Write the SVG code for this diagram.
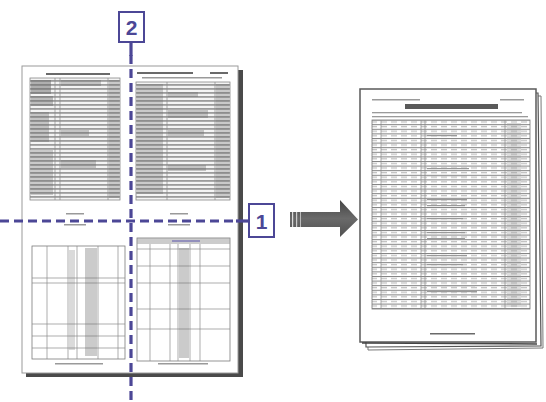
<svg xmlns="http://www.w3.org/2000/svg" width="546" height="402" viewBox="0 0 546 402">
<style>
.page{fill:#fff;stroke:#9a9a9a;stroke-width:1}
.shadow{fill:#4a4a4a}
.tbl{fill:none;stroke:#7a7a7a;stroke-width:0.8}
.ln{stroke:#8a8a8a;stroke-width:0.7}
.txt{fill:#9a9a9a}
.dtxt{fill:#6a6a6a}
.cut{stroke:#4c4796;stroke-width:3.2;stroke-dasharray:9 5;fill:none}
.tag rect{fill:#fff;stroke:#4c4796;stroke-width:2}
.tag text{font-family:"Liberation Sans",Arial,sans-serif;font-weight:bold;font-size:21px;fill:#4c4796;text-anchor:middle}
</style>
<defs>
<pattern id="rowsDense" width="10" height="4" patternUnits="userSpaceOnUse">
<rect width="10" height="4" fill="#f4f4f4"/>
<rect y="0" width="10" height="1.8" fill="#9c9c9c"/>
</pattern>
<pattern id="rowsR" width="10" height="4.6" patternUnits="userSpaceOnUse">
<rect width="10" height="4.6" fill="#fff"/>
<rect y="0" width="10" height="1" fill="#808080"/>
<rect x="1" y="1.8" width="6" height="1.3" fill="#c4c4c4"/>
</pattern>
<linearGradient id="arrowG" x1="0" y1="0" x2="0" y2="1">
<stop offset="0" stop-color="#444"/>
<stop offset="0.5" stop-color="#6a6a6a"/>
<stop offset="1" stop-color="#505050"/>
</linearGradient>
</defs>

<!-- Left page -->
<g id="source-page">
<rect class="shadow" x="26" y="70" width="217" height="307"/>
<rect class="page" x="22" y="66" width="216" height="307"/>
<!-- top-left quadrant -->
<rect class="dtxt" x="46" y="73" width="64" height="2"/>
<rect x="30" y="78" width="90" height="122" fill="url(#rowsDense)" stroke="#888" stroke-width="0.8"/>
<line class="ln" x1="55" y1="78" x2="55" y2="200"/>
<line class="ln" x1="60" y1="78" x2="60" y2="200"/>
<line class="ln" x1="108" y1="78" x2="108" y2="200"/>
<rect class="dtxt" x="31" y="80" width="20" height="14" opacity="0.5"/>
<rect class="dtxt" x="31" y="96" width="22" height="10" opacity="0.4"/>
<rect class="dtxt" x="31" y="112" width="18" height="30" opacity="0.35"/>
<rect class="dtxt" x="31" y="150" width="22" height="45" opacity="0.3"/>
<rect class="dtxt" x="61" y="80" width="40" height="6" opacity="0.35"/>
<rect class="dtxt" x="61" y="130" width="28" height="6" opacity="0.35"/>
<rect class="dtxt" x="61" y="160" width="35" height="8" opacity="0.35"/>
<rect class="dtxt" x="109" y="80" width="10" height="118" opacity="0.3"/>
<!-- top-right quadrant -->
<rect class="dtxt" x="137" y="72" width="56" height="2"/>
<rect class="dtxt" x="210" y="72" width="18" height="2"/>
<rect class="txt" x="142" y="77" width="80" height="1.5"/>
<rect x="136" y="82" width="94" height="118" fill="url(#rowsDense)" stroke="#888" stroke-width="0.8"/>
<line class="ln" x1="167" y1="82" x2="167" y2="200"/>
<line class="ln" x1="215" y1="82" x2="215" y2="200"/>
<rect class="dtxt" x="137" y="84" width="26" height="110" opacity="0.3"/>
<rect class="dtxt" x="168" y="92" width="30" height="5" opacity="0.35"/>
<rect class="dtxt" x="168" y="110" width="40" height="8" opacity="0.35"/>
<rect class="dtxt" x="168" y="130" width="36" height="6" opacity="0.35"/>
<rect class="dtxt" x="168" y="165" width="38" height="6" opacity="0.35"/>
<rect class="dtxt" x="216" y="84" width="13" height="114" opacity="0.3"/>
<!-- captions -->
<rect class="txt" x="66" y="213" width="18" height="1.5"/>
<rect class="txt" x="64" y="224" width="22" height="1.5"/>
<rect class="txt" x="170" y="213" width="18" height="1.5"/>
<rect class="txt" x="168" y="224" width="22" height="1.5"/>
<!-- bottom-left table -->
<rect class="tbl" x="32" y="246" width="93" height="113"/>
<line class="ln" x1="47" y1="246" x2="47" y2="359"/>
<line class="ln" x1="68" y1="246" x2="68" y2="359"/>
<line class="ln" x1="77" y1="246" x2="77" y2="359"/>
<line class="ln" x1="98" y1="246" x2="98" y2="359"/>
<line class="ln" x1="118" y1="246" x2="118" y2="359"/>
<line class="ln" x1="32" y1="278" x2="125" y2="278"/>
<line class="ln" x1="32" y1="283" x2="125" y2="283"/>
<line class="ln" x1="32" y1="324" x2="125" y2="324"/>
<line class="ln" x1="32" y1="336" x2="125" y2="336"/>
<line class="ln" x1="32" y1="348" x2="125" y2="348"/>
<rect class="dtxt" x="85" y="248" width="12" height="108" opacity="0.35"/>
<rect class="dtxt" x="69" y="250" width="6" height="100" opacity="0.25"/>
<rect class="txt" x="55" y="363" width="48" height="1.5"/>
<!-- bottom-right table -->
<rect class="tbl" x="137" y="238" width="93" height="123"/>
<rect class="txt" x="137" y="238" width="93" height="6" opacity="0.5"/>
<rect x="172" y="240" width="28" height="2" fill="#6c67b0" opacity="0.6"/>
<line class="ln" x1="150" y1="244" x2="150" y2="361"/>
<line class="ln" x1="170" y1="244" x2="170" y2="361"/>
<line class="ln" x1="178" y1="244" x2="178" y2="361"/>
<line class="ln" x1="190" y1="244" x2="190" y2="361"/>
<line class="ln" x1="200" y1="244" x2="200" y2="361"/>
<line class="ln" x1="137" y1="249" x2="230" y2="249"/>
<line class="ln" x1="137" y1="266" x2="230" y2="266"/>
<line class="ln" x1="137" y1="283" x2="230" y2="283"/>
<line class="ln" x1="137" y1="309" x2="230" y2="309"/>
<line class="ln" x1="137" y1="329" x2="230" y2="329"/>
<rect class="dtxt" x="179" y="248" width="10" height="110" opacity="0.35"/>
<rect class="txt" x="158" y="363" width="50" height="1.5"/>
</g>

<!-- cut lines -->
<g id="connectors">
<line class="cut" x1="131" y1="55" x2="131" y2="402"/>
<line x1="131" y1="42" x2="131" y2="56" stroke="#4c4796" stroke-width="3.2"/>
<line class="cut" x1="0" y1="221" x2="236" y2="221"/>
<line x1="236" y1="221" x2="249" y2="221" stroke="#4c4796" stroke-width="3.2"/>
</g>

<g id="tag-2" class="tag">
<rect x="119" y="12" width="25" height="30"/>
<text x="131.5" y="35">2</text>
</g>
<g id="tag-1" class="tag">
<rect x="249" y="204" width="25" height="33"/>
<text x="261.5" y="229">1</text>
</g>

<!-- big arrow -->
<g id="arrow">
<polygon points="290,212 340,212 340,200 358,219.5 340,237 340,227 290,227" fill="url(#arrowG)"/>
<rect x="292" y="212" width="1.2" height="15" fill="#ddd"/>
<rect x="296" y="212" width="1.2" height="15" fill="#ccc"/>
<rect x="300" y="212" width="1" height="15" fill="#bbb"/>
</g>

<!-- Right page stack -->
<g id="result-pages">
<polygon points="366,96 541,96 543,348 368,350" fill="#fff" stroke="#777" stroke-width="1"/>
<polygon points="364,93 538,93 541,346 366,347" fill="#fff" stroke="#555" stroke-width="1.2"/>
<rect x="360" y="89" width="176" height="253" fill="#fff" stroke="#5a5a5a" stroke-width="1.5"/>
<line x1="362" y1="343" x2="537" y2="344" stroke="#444" stroke-width="1.5"/>
<rect class="txt" x="372" y="99" width="48" height="1.5"/>
<rect class="txt" x="500" y="99" width="24" height="1.5"/>
<rect x="405" y="104" width="93" height="5" fill="#5a5a5a"/>
<rect class="txt" x="372" y="112" width="150" height="1.3"/>
<rect class="txt" x="372" y="116" width="156" height="1.3"/>
<rect x="372" y="120" width="158" height="189" fill="url(#rowsR)" stroke="#777" stroke-width="0.8"/>
<line class="ln" x1="381" y1="120" x2="381" y2="309"/>
<line class="ln" x1="421" y1="120" x2="421" y2="309"/>
<line class="ln" x1="425" y1="120" x2="425" y2="309"/>
<line class="ln" x1="505" y1="120" x2="505" y2="309"/>
<rect class="txt" x="427" y="135" width="30" height="1.2"/>
<rect class="txt" x="427" y="168" width="42" height="1.2"/>
<rect class="txt" x="427" y="175" width="40" height="1.2"/>
<rect class="txt" x="427" y="199" width="40" height="1.2"/>
<rect class="txt" x="427" y="205" width="38" height="1.2"/>
<rect class="txt" x="427" y="218" width="36" height="1.2"/>
<rect class="txt" x="427" y="232" width="38" height="1.2"/>
<rect class="txt" x="427" y="238" width="38" height="1.2"/>
<rect class="txt" x="427" y="255" width="40" height="1.2"/>
<rect class="txt" x="427" y="264" width="36" height="1.2"/>
<rect class="txt" x="427" y="285" width="48" height="1.2"/>
<rect class="txt" x="427" y="291" width="50" height="1.2"/>
<rect class="txt" x="507" y="123" width="14" height="184" opacity="0.35"/>
<rect class="dtxt" x="430" y="333" width="45" height="1.5"/>
</g>
</svg>
